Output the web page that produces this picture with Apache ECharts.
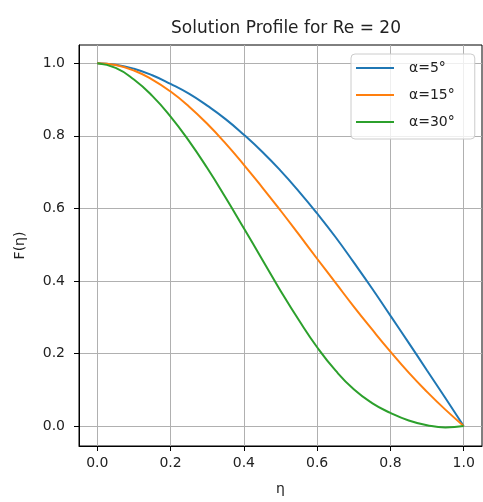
<!DOCTYPE html>
<html>
<head>
<meta charset="utf-8">
<script src="https://cdn.jsdelivr.net/npm/echarts@6/dist/echarts.min.js"></script>
<style>
  html, body { margin: 0; padding: 0; background: #fff; }
  #chart { width: 483px; height: 502px; }
</style>
</head>
<body>
<div id="chart"></div>
<script>
// Similarity coordinate η across the channel half-width
const eta = [0.00, 0.05, 0.10, 0.15, 0.20, 0.25, 0.30, 0.35, 0.40, 0.45, 0.50,
             0.55, 0.60, 0.65, 0.70, 0.75, 0.80, 0.85, 0.90, 0.95, 1.00];

// Velocity profile F(η) for each half-angle
const profileAlpha5 = [1.000, 0.996, 0.985, 0.967, 0.943, 0.916, 0.883, 0.846, 0.803, 0.756, 0.704,
                       0.647, 0.586, 0.521, 0.451, 0.379, 0.304, 0.229, 0.153, 0.077, 0.000];
const profileAlpha15 = [1.000, 0.995, 0.980, 0.955, 0.922, 0.881, 0.833, 0.779, 0.720, 0.658, 0.594,
                        0.528, 0.461, 0.395, 0.329, 0.266, 0.205, 0.147, 0.094, 0.045, 0.000];
const profileAlpha30 = [1.000, 0.987, 0.955, 0.910, 0.853, 0.786, 0.711, 0.630, 0.545, 0.459, 0.373,
                        0.292, 0.217, 0.153, 0.101, 0.063, 0.036, 0.015, 0.002, -0.004, 0.000];

const seriesNames = ['α=5°', 'α=15°', 'α=30°'];
const seriesColors = ['#1f77b4', '#ff7f0e', '#2ca02c'];

const xTicks = [0.0, 0.2, 0.4, 0.6, 0.8, 1.0];
const yTicks = [0.0, 0.2, 0.4, 0.6, 0.8, 1.0];

const chartTitle = 'Solution Profile for Re = 20';
const xLabel = 'η';
const yLabel = 'F(η)';

const FONT = 'DejaVu Sans';

function pairs(ys) {
  return eta.map((x, i) => [x, ys[i]]);
}

const profiles = [profileAlpha5, profileAlpha15, profileAlpha30];

const chart = echarts.init(document.getElementById('chart'), null, { renderer: 'canvas' });

const axisCommon = {
  type: 'value',
  axisLine: { show: true, onZero: false, lineStyle: { color: '#000', width: 1 } },
  axisTick: { show: true, length: 5, lineStyle: { color: '#000', width: 1 } },
  axisLabel: { color: '#222', fontFamily: FONT, fontSize: 14 },
  splitLine: { show: true, lineStyle: { color: '#b0b0b0', width: 1 } },
  nameLocation: 'middle',
  nameTextStyle: { color: '#222', fontFamily: FONT, fontSize: 14 }
};

chart.setOption({
  animation: false,
  backgroundColor: '#fff',
  title: {
    text: chartTitle,
    left: 281, top: 15, textAlign: 'center',
    textStyle: { color: '#222', fontFamily: FONT, fontSize: 17, fontWeight: 'normal' }
  },
  grid: {
    left: 79, right: 1, top: 45, bottom: 56,
    show: true, borderColor: '#000', borderWidth: 1, backgroundColor: 'transparent'
  },
  legend: {
    orient: 'vertical',
    left: 351, top: 54,
    data: seriesNames,
    icon: 'rect',
    itemWidth: 38, itemHeight: 2, itemGap: 13,
    padding: [7, 20, 10, 5],
    backgroundColor: 'rgba(255,255,255,0.8)',
    borderColor: '#cccccc', borderWidth: 1, borderRadius: 4,
    textStyle: { color: '#222', fontFamily: FONT, fontSize: 14, padding: [0, 0, 0, 10] }
  },
  xAxis: Object.assign({}, axisCommon, {
    min: -0.05, max: 1.05,
    name: xLabel, nameGap: 36,
    axisTick: Object.assign({}, axisCommon.axisTick, { customValues: xTicks }),
    axisLabel: Object.assign({}, axisCommon.axisLabel, {
      customValues: xTicks, margin: 10, formatter: v => v.toFixed(1)
    }),
    splitLine: Object.assign({}, axisCommon.splitLine, { customValues: xTicks })
  }),
  yAxis: Object.assign({}, axisCommon, {
    min: -0.0553, max: 1.0503,
    name: yLabel, nameGap: 52, nameRotate: 90,
    axisTick: Object.assign({}, axisCommon.axisTick, { customValues: yTicks }),
    axisLabel: Object.assign({}, axisCommon.axisLabel, {
      customValues: yTicks, margin: 14, formatter: v => v.toFixed(1)
    }),
    splitLine: Object.assign({}, axisCommon.splitLine, { customValues: yTicks })
  }),
  series: profiles.map((ys, i) => ({
    name: seriesNames[i],
    type: 'line',
    data: pairs(ys),
    smooth: 0.5,
    symbol: 'none',
    lineStyle: { color: seriesColors[i], width: 2 },
    itemStyle: { color: seriesColors[i] },
    z: 3
  }))
});
</script>
</body>
</html>
